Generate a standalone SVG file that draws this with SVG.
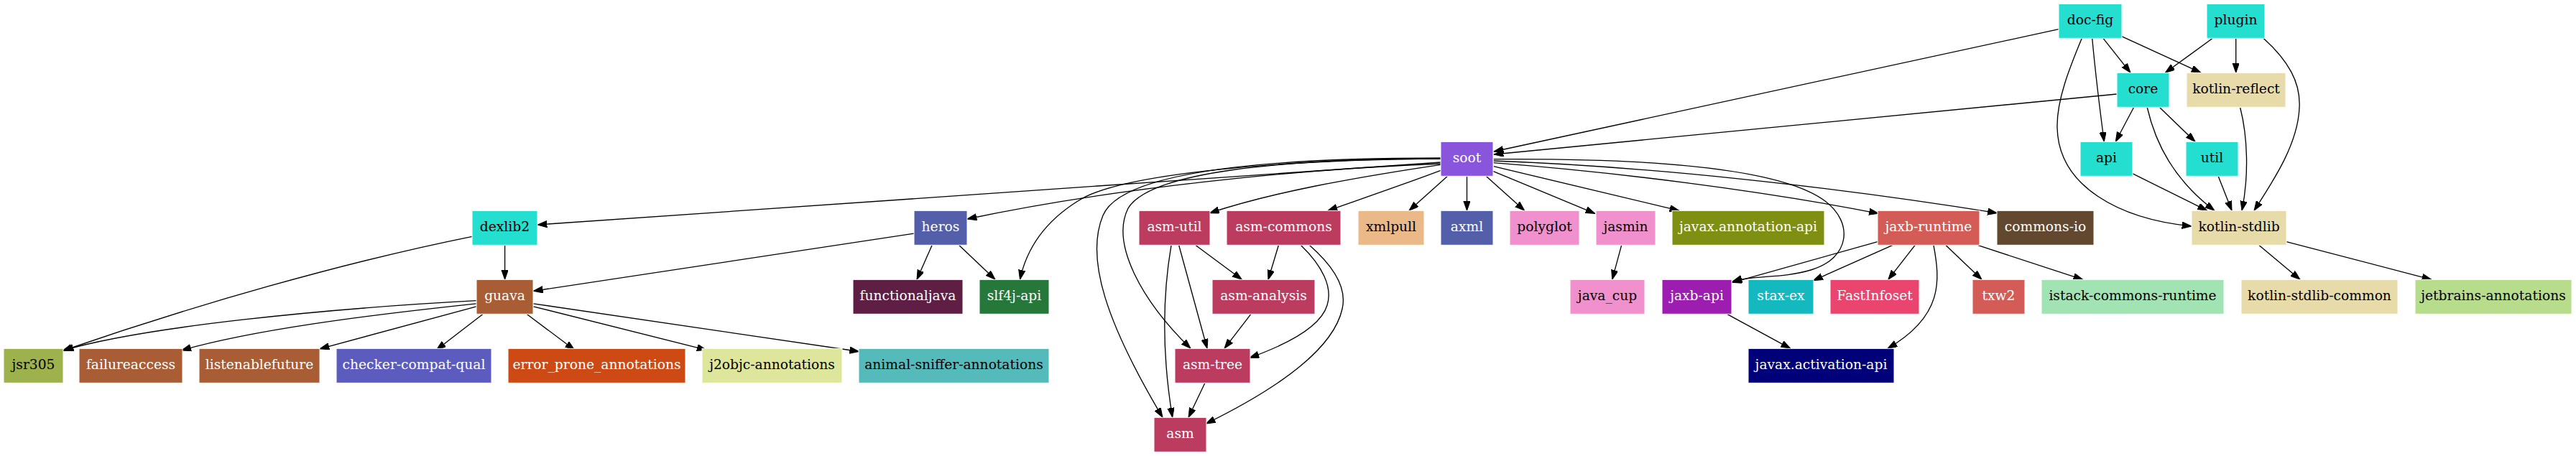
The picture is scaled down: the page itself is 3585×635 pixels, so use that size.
<svg xmlns="http://www.w3.org/2000/svg" width="3585" height="635" viewBox="0 0 3585 635">
<style>
.n rect{stroke:#ffffff;stroke-width:1}
.n text{font-family:"DejaVu Serif","Liberation Serif",serif;font-size:18.67px;text-anchor:middle}
.b text{fill:#000000}
.w text{fill:#ffffff}
#edges path{fill:none;stroke:#000000;stroke-width:1.33;marker-end:url(#ah)}
</style>
<defs>
<marker id="ah" markerUnits="userSpaceOnUse" markerWidth="14" markerHeight="10" refX="13.33" refY="4.67" orient="auto" viewBox="0 0 14 10">
<path d="M0,0 L13.33,4.67 L0,9.33 z" fill="#000000" stroke="#000000" stroke-width="1"/>
</marker>
</defs>
<rect width="3585" height="635" fill="#ffffff"/>
<g id="edges">
<path d="M2865,40.7 L2079,211"/>
<path d="M2927,53.3 L2965,101.3"/>
<path d="M2952.7,50.7 L3063,101.3"/>
<path d="M2911.7,53.3 C2916,100 2922,150 2928.3,197.3"/>
<path d="M2897.3,53.3 C2880,95 2862,140 2863,178 C2865,260 2950,305 3050,315"/>
<path d="M3079.3,53.3 L3013.3,101.3"/>
<path d="M3111.7,53.3 L3111.7,101.3"/>
<path d="M3150,53.3 C3185,85 3202,115 3200,150 C3198,200 3165,250 3137,293.3"/>
<path d="M2946,131 L2079,215"/>
<path d="M2969.3,150 L2944.3,197.3"/>
<path d="M3006,150 L3055,197.3"/>
<path d="M2988.3,150 C3000,200 3025,250 3082,293.3"/>
<path d="M3117.7,150 C3128,190 3130,245 3120,293.3"/>
<path d="M2967.7,241.7 L3071.7,293.3"/>
<path d="M3087.3,245.7 L3106,293.3"/>
<path d="M3143.6,341.3 L3201,389.3"/>
<path d="M3182,336.6 L3384,389.3"/>
<path d="M2041.5,245.3 L2041.5,293.3"/>
<path d="M2014.5,245.3 L1961,293.3"/>
<path d="M2005,237.3 C1950,258 1900,275 1848,293.3"/>
<path d="M2005,229.3 C1880,248 1770,268 1683.4,296.7"/>
<path d="M2005,228 C1800,236 1550,262 1346,305"/>
<path d="M2005,226 L748,313"/>
<path d="M2005,221 C1800,222 1560,240 1500,280 C1460,305 1430,340 1419.5,389.3"/>
<path d="M2005,220 C1750,220 1560,240 1535,300 C1510,360 1540,450 1618,581.3"/>
<path d="M2005,221 C1780,221 1600,240 1570,290 C1545,340 1590,420 1657,485.3"/>
<path d="M2068.2,245.3 L2121.7,293.3"/>
<path d="M2077.7,238.3 L2219.8,297.3"/>
<path d="M2078.7,231.7 L2337,293.3"/>
<path d="M2078.7,226.7 C2250,240 2450,265 2614.4,297.3"/>
<path d="M2078.7,224 C2300,232 2550,260 2779.4,296.7"/>
<path d="M2078.7,221.7 C2300,220 2480,235 2540,280 C2580,310 2575,360 2520,376 C2480,388 2440,383 2411,392"/>
<path d="M2256.6,341.7 L2243.7,389.3"/>
<path d="M2613,336.7 L2411,393.3"/>
<path d="M2633.5,341.7 L2523.5,390.7"/>
<path d="M2665,341.7 L2627.8,389.3"/>
<path d="M2708.2,341.7 L2758,389.3"/>
<path d="M2691,341.7 C2700,390 2705,440 2627,485.3"/>
<path d="M2753,341.7 L2898.7,389.3"/>
<path d="M2404,437.7 L2491.8,485.3"/>
<path d="M1630,341.7 C1620,400 1615,480 1631.7,581.3"/>
<path d="M1640.7,341.7 L1680,485.3"/>
<path d="M1664.3,341.7 L1728.3,389.3"/>
<path d="M1779.3,341.7 L1765,389.3"/>
<path d="M1810.7,341.7 C1840,370 1855,400 1847,425 C1838,455 1790,480 1739,498.3"/>
<path d="M1822.7,341.7 C1855,370 1875,400 1868,430 C1855,490 1770,545 1678.3,590"/>
<path d="M1740.7,437.7 L1704,485.3"/>
<path d="M1676.7,533.7 L1654,581.3"/>
<path d="M1297.2,341.3 L1276,389.3"/>
<path d="M1334.5,341.3 L1385,389.3"/>
<path d="M1272,325.2 L742.2,405.3"/>
<path d="M702.6,341.3 L702.6,389.3"/>
<path d="M657.2,329.3 C480,365 270,425 87,488.5"/>
<path d="M663,418.7 C450,430 200,455 89,487.8"/>
<path d="M663,422.8 C500,440 350,460 252.6,487.8"/>
<path d="M663,426.8 L444.9,485.8"/>
<path d="M671.6,437.7 L607.3,487.3"/>
<path d="M733.6,437.7 L799.6,487.3"/>
<path d="M742.2,426.8 L983.2,487.3"/>
<path d="M742.2,422.8 L1195.6,489.5"/>
</g>
<g id="doc-fig" class="n b"><rect x="2865" y="5.33" width="88" height="48" fill="#24dfcf"/><text x="2909" y="34.33">doc-fig</text></g>
<g id="plugin" class="n b"><rect x="3071" y="5.33" width="81" height="48" fill="#24dfcf"/><text x="3111.5" y="34.33">plugin</text></g>
<g id="core" class="n b"><rect x="2946" y="101.33" width="73" height="48" fill="#24dfcf"/><text x="2982.5" y="130.33">core</text></g>
<g id="kotlin-reflect" class="n b"><rect x="3043" y="101.33" width="138" height="48" fill="#e8dbaa"/><text x="3112" y="130.33">kotlin-reflect</text></g>
<g id="soot" class="n w"><rect x="2005" y="197.33" width="73" height="48" fill="#8a55dd"/><text x="2041.5" y="226.33">soot</text></g>
<g id="api" class="n b"><rect x="2895" y="197.33" width="73" height="48" fill="#24dfcf"/><text x="2931.5" y="226.33">api</text></g>
<g id="util" class="n b"><rect x="3042" y="197.33" width="73" height="48" fill="#24dfcf"/><text x="3078.5" y="226.33">util</text></g>
<g id="dexlib2" class="n b"><rect x="657" y="293.33" width="91" height="48" fill="#24dfcf"/><text x="702.5" y="322.33">dexlib2</text></g>
<g id="heros" class="n w"><rect x="1272" y="293.33" width="74" height="48" fill="#545fa9"/><text x="1309" y="322.33">heros</text></g>
<g id="asm-util" class="n w"><rect x="1585" y="293.33" width="99" height="48" fill="#bc3c5f"/><text x="1634.5" y="322.33">asm-util</text></g>
<g id="asm-commons" class="n w"><rect x="1707" y="293.33" width="159" height="48" fill="#bc3c5f"/><text x="1786.5" y="322.33">asm-commons</text></g>
<g id="xmlpull" class="n b"><rect x="1890" y="293.33" width="92" height="48" fill="#ebb888"/><text x="1936" y="322.33">xmlpull</text></g>
<g id="axml" class="n w"><rect x="2005" y="293.33" width="73" height="48" fill="#545fa9"/><text x="2041.5" y="322.33">axml</text></g>
<g id="polyglot" class="n b"><rect x="2101" y="293.33" width="97" height="48" fill="#f090cc"/><text x="2149.5" y="322.33">polyglot</text></g>
<g id="jasmin" class="n b"><rect x="2221" y="293.33" width="83" height="48" fill="#f090cc"/><text x="2262.5" y="322.33">jasmin</text></g>
<g id="javax.annotation-api" class="n w"><rect x="2327" y="293.33" width="212" height="48" fill="#7f8f11"/><text x="2433" y="322.33">javax.annotation-api</text></g>
<g id="jaxb-runtime" class="n w"><rect x="2613" y="293.33" width="142" height="48" fill="#d35d56"/><text x="2684" y="322.33">jaxb-runtime</text></g>
<g id="commons-io" class="n w"><rect x="2779" y="293.33" width="135" height="48" fill="#634830"/><text x="2846.5" y="322.33">commons-io</text></g>
<g id="kotlin-stdlib" class="n b"><rect x="3050" y="293.33" width="132" height="48" fill="#e8dbaa"/><text x="3116" y="322.33">kotlin-stdlib</text></g>
<g id="guava" class="n w"><rect x="663" y="389.33" width="79" height="48" fill="#a95d35"/><text x="702.5" y="418.33">guava</text></g>
<g id="functionaljava" class="n w"><rect x="1187" y="389.33" width="153" height="48" fill="#5f1f45"/><text x="1263.5" y="418.33">functionaljava</text></g>
<g id="slf4j-api" class="n w"><rect x="1363" y="389.33" width="97" height="48" fill="#25773a"/><text x="1411.5" y="418.33">slf4j-api</text></g>
<g id="asm-analysis" class="n w"><rect x="1687" y="389.33" width="143" height="48" fill="#bc3c5f"/><text x="1758.5" y="418.33">asm-analysis</text></g>
<g id="java_cup" class="n b"><rect x="2185" y="389.33" width="104" height="48" fill="#f090cc"/><text x="2237" y="418.33">java_cup</text></g>
<g id="jaxb-api" class="n w"><rect x="2313" y="389.33" width="97" height="48" fill="#9c1daf"/><text x="2361.5" y="418.33">jaxb-api</text></g>
<g id="stax-ex" class="n w"><rect x="2433" y="389.33" width="91" height="48" fill="#14b9bf"/><text x="2478.5" y="418.33">stax-ex</text></g>
<g id="FastInfoset" class="n w"><rect x="2547" y="389.33" width="124" height="48" fill="#e9456f"/><text x="2609" y="418.33">FastInfoset</text></g>
<g id="txw2" class="n w"><rect x="2745" y="389.33" width="73" height="48" fill="#d35d56"/><text x="2781.5" y="418.33">txw2</text></g>
<g id="istack-commons-runtime" class="n b"><rect x="2841" y="389.33" width="254" height="48" fill="#a2e3b3"/><text x="2968" y="418.33">istack-commons-runtime</text></g>
<g id="kotlin-stdlib-common" class="n b"><rect x="3119" y="389.33" width="218" height="48" fill="#e8dbaa"/><text x="3228" y="418.33">kotlin-stdlib-common</text></g>
<g id="jetbrains-annotations" class="n b"><rect x="3361" y="389.33" width="218" height="48" fill="#b6dc8c"/><text x="3470" y="418.33">jetbrains-annotations</text></g>
<g id="jsr305" class="n b"><rect x="5" y="485.33" width="83" height="48" fill="#9db14d"/><text x="46.5" y="514.33">jsr305</text></g>
<g id="failureaccess" class="n w"><rect x="110" y="485.33" width="144" height="48" fill="#a95d35"/><text x="182" y="514.33">failureaccess</text></g>
<g id="listenablefuture" class="n w"><rect x="277" y="485.33" width="168" height="48" fill="#a95d35"/><text x="361" y="514.33">listenablefuture</text></g>
<g id="checker-compat-qual" class="n w"><rect x="468" y="485.33" width="216" height="48" fill="#5c5cbf"/><text x="576" y="514.33">checker-compat-qual</text></g>
<g id="error_prone_annotations" class="n w"><rect x="707" y="485.33" width="247" height="48" fill="#cd4a14"/><text x="830.5" y="514.33">error_prone_annotations</text></g>
<g id="j2objc-annotations" class="n b"><rect x="977" y="485.33" width="195" height="48" fill="#dee69c"/><text x="1074.5" y="514.33">j2objc-annotations</text></g>
<g id="animal-sniffer-annotations" class="n b"><rect x="1195" y="485.33" width="265" height="48" fill="#55baba"/><text x="1327.5" y="514.33">animal-sniffer-annotations</text></g>
<g id="asm-tree" class="n w"><rect x="1635" y="485.33" width="105" height="48" fill="#bc3c5f"/><text x="1687.5" y="514.33">asm-tree</text></g>
<g id="javax.activation-api" class="n w"><rect x="2433" y="485.33" width="203" height="48" fill="#000078"/><text x="2534.5" y="514.33">javax.activation-api</text></g>
<g id="asm" class="n w"><rect x="1606" y="581.33" width="73" height="48" fill="#bc3c5f"/><text x="1642.5" y="610.33">asm</text></g>
</svg>
